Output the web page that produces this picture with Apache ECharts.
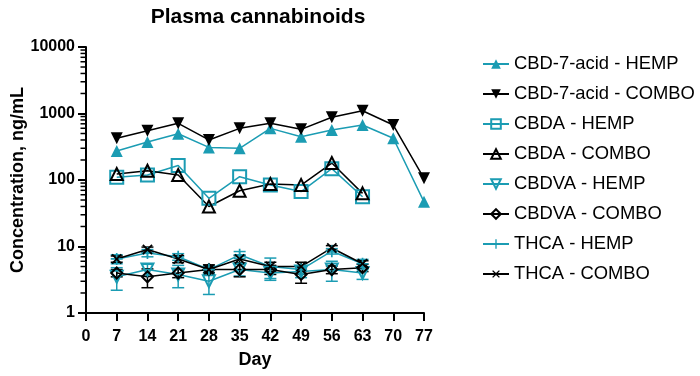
<!DOCTYPE html>
<html><head><meta charset="utf-8">
<script src="https://cdn.jsdelivr.net/npm/echarts@6/dist/echarts.min.js"></script>
<style>html,body{margin:0;padding:0;background:#fff}#c{width:700px;height:376px}</style>
</head><body><div id="c"></div>
<script>
const daysLong = [7,14,21,28,35,42,49,56,63,70,77];
const daysShort = [7,14,21,28,35,42,49,56,63];
const xTicks = [0,7,14,21,28,35,42,49,56,63,70,77];
const yTicks = [1,10,100,1000,10000];

const cbd7Hemp  = [273,373,497,309,299,598,448,565,671,424,47];
const cbd7Combo = [424,550,711,400,598,711,578,877,1100,671,106];
const cbdaHemp  = [110,119,165,53,112,84,67,148,56];
const cbdaCombo = [123,138,119,40,69,87,84,180,63];
const cbdvaHemp = [3.5,4.5,3.8,3.0,4.5,4.0,4.2,4.5,4.0];
const cbdvaHempSd = [1.3,0.9,1.4,1.1,0.9,0.9,0.8,1.5,0.8];
const cbdvaCombo = [4.0,3.5,4.0,4.5,4.5,4.5,3.8,4.5,4.8];
const cbdvaComboSd = [0.5,1.1,0.6,0.5,1.0,0.7,1.0,0.6,0.6];
const thcaHemp = [6.5,8.0,7.0,4.5,7.5,5.0,4.5,8.5,5.5];
const thcaHempSd = [1.0,1.0,0.8,0.6,0.9,1.7,0.6,0.8,0.9];
const thcaCombo = [6.5,9.0,6.5,4.5,6.5,5.0,5.0,9.5,5.5];
const thcaComboSd = [0.7,0.8,0.8,0.8,0.8,0.8,0.8,0.8,0.6];

const TEAL = '#1b9cb3', BLACK = '#000';
const minorTickValues = [];
for (let d = 1; d <= 1000; d *= 10) for (let k = 2; k <= 9; k++) minorTickValues.push(k * d);

const downTri = 'path://M0,0L10,0L5,9Z';
const plus = 'path://M4.3,0h1.4v4.3h4.3v1.4h-4.3v4.3h-1.4v-4.3h-4.3v-1.4h4.3z';

function pairs(xs, ys) { return xs.map((x, i) => [x, ys[i]]); }

function lineSeries(name, xs, ys, color, symbol, size, hollow, rotate) {
  return {
    name, type: 'line', data: pairs(xs, ys), symbol, symbolSize: size,
    symbolRotate: rotate || 0,
    lineStyle: { color, width: 1.5 },
    itemStyle: hollow ? { color: 'rgba(255,255,255,0)', borderColor: color, borderWidth: 2 }
                      : { color, borderColor: color, borderWidth: 0 },
    z: 3, animation: false
  };
}

function errSeries(xs, ys, sd, color) {
  return {
    type: 'custom',
    data: xs.map((x, i) => [x, Math.max(ys[i] - sd[i], 0.5), ys[i] + sd[i]]),
    renderItem: function (params, api) {
      const lo = api.coord([api.value(0), api.value(1)]);
      const hi = api.coord([api.value(0), api.value(2)]);
      const w = 6;
      const st = { stroke: color, lineWidth: 1.5 };
      return { type: 'group', children: [
        { type: 'line', shape: { x1: lo[0], y1: lo[1], x2: hi[0], y2: hi[1] }, style: st },
        { type: 'line', shape: { x1: lo[0]-w, y1: lo[1], x2: lo[0]+w, y2: lo[1] }, style: st },
        { type: 'line', shape: { x1: hi[0]-w, y1: hi[1], x2: hi[0]+w, y2: hi[1] }, style: st }
      ]};
    },
    z: 2, silent: true, animation: false
  };
}

// minor log ticks on the y axis, placed through the axis scale (drawn left of the axis)
const minorTickSeries = {
  type: 'custom', clip: false, silent: true, animation: false, z: 10,
  data: minorTickValues.map(v => [0, v]),
  renderItem: function (params, api) {
    const p = api.coord([0, api.value(1)]);
    return { type: 'line', shape: { x1: p[0] - 5.5, y1: p[1], x2: p[0], y2: p[1] },
      style: { stroke: '#000', lineWidth: 1.5 } };
  }
};

const chart = echarts.init(document.getElementById('c'), null, { renderer: 'canvas' });
const font = 'Liberation Sans, Arial, sans-serif';
chart.setOption({
  animation: false,
  textStyle: { fontFamily: font },
  title: { text: 'Plasma cannabinoids', left: 253, top: 2, textAlign: 'center',
    textStyle: { fontFamily: font, fontSize: 21, fontWeight: 'bold', color: '#000' } },
  grid: { left: 86, right: 276, top: 47, bottom: 63, containLabel: false },
  legend: {
    orient: 'vertical', left: 477, top: 50, itemWidth: 26, itemHeight: 12, itemGap: 12,
    textStyle: { fontFamily: font, fontSize: 18.4, color: '#000', lineHeight: 18 },
    data: ['CBD-7-acid - HEMP','CBD-7-acid - COMBO','CBDA - HEMP','CBDA - COMBO',
           'CBDVA - HEMP','CBDVA - COMBO','THCA - HEMP','THCA - COMBO']
  },
  xAxis: {
    type: 'value', min: 0, max: 77, interval: 7, name: 'Day', nameLocation: 'middle', nameGap: 38,
    nameTextStyle: { fontFamily: font, fontSize: 18, fontWeight: 'bold', color: '#000' },
    axisLine: { lineStyle: { color: '#000', width: 2 } },
    axisTick: { show: true, length: 8, lineStyle: { color: '#000', width: 2 } },
    axisLabel: { fontFamily: font, fontSize: 16, fontWeight: 'bold', color: '#000', margin: 16 },
    splitLine: { show: false }
  },
  yAxis: {
    type: 'log', min: 1, max: 10000, logBase: 10, name: 'Concentration, ng/mL',
    nameLocation: 'middle', nameGap: 53, nameRotate: 90,
    nameTextStyle: { fontFamily: font, fontSize: 18, fontWeight: 'bold', color: '#000' },
    axisLine: { show: true, lineStyle: { color: '#000', width: 2 } },
    axisTick: { show: true, length: 8, lineStyle: { color: '#000', width: 2 } },
    axisLabel: { fontFamily: font, fontSize: 16, fontWeight: 'bold', color: '#000', margin: 11,
      formatter: v => String(Math.round(v)) },
    splitLine: { show: false }
  },
  series: [
    lineSeries('CBD-7-acid - HEMP', daysLong, cbd7Hemp, TEAL, 'triangle', 12, false),
    lineSeries('CBD-7-acid - COMBO', daysLong, cbd7Combo, BLACK, downTri, 12, false),
    lineSeries('CBDA - HEMP', daysShort, cbdaHemp, TEAL, 'rect', 13, true),
    lineSeries('CBDA - COMBO', daysShort, cbdaCombo, BLACK, 'triangle', 12, true),
    lineSeries('CBDVA - HEMP', daysShort, cbdvaHemp, TEAL, downTri, 12, true),
    lineSeries('CBDVA - COMBO', daysShort, cbdvaCombo, BLACK, 'diamond', 11, true),
    lineSeries('THCA - HEMP', daysShort, thcaHemp, TEAL, plus, 12, false),
    lineSeries('THCA - COMBO', daysShort, thcaCombo, BLACK, plus, 13, false, 45),
    errSeries(daysShort, cbdvaHemp, cbdvaHempSd, TEAL),
    errSeries(daysShort, cbdvaCombo, cbdvaComboSd, BLACK),
    errSeries(daysShort, thcaHemp, thcaHempSd, TEAL),
    errSeries(daysShort, thcaCombo, thcaComboSd, BLACK),
    minorTickSeries
  ]
});
</script></body></html>
